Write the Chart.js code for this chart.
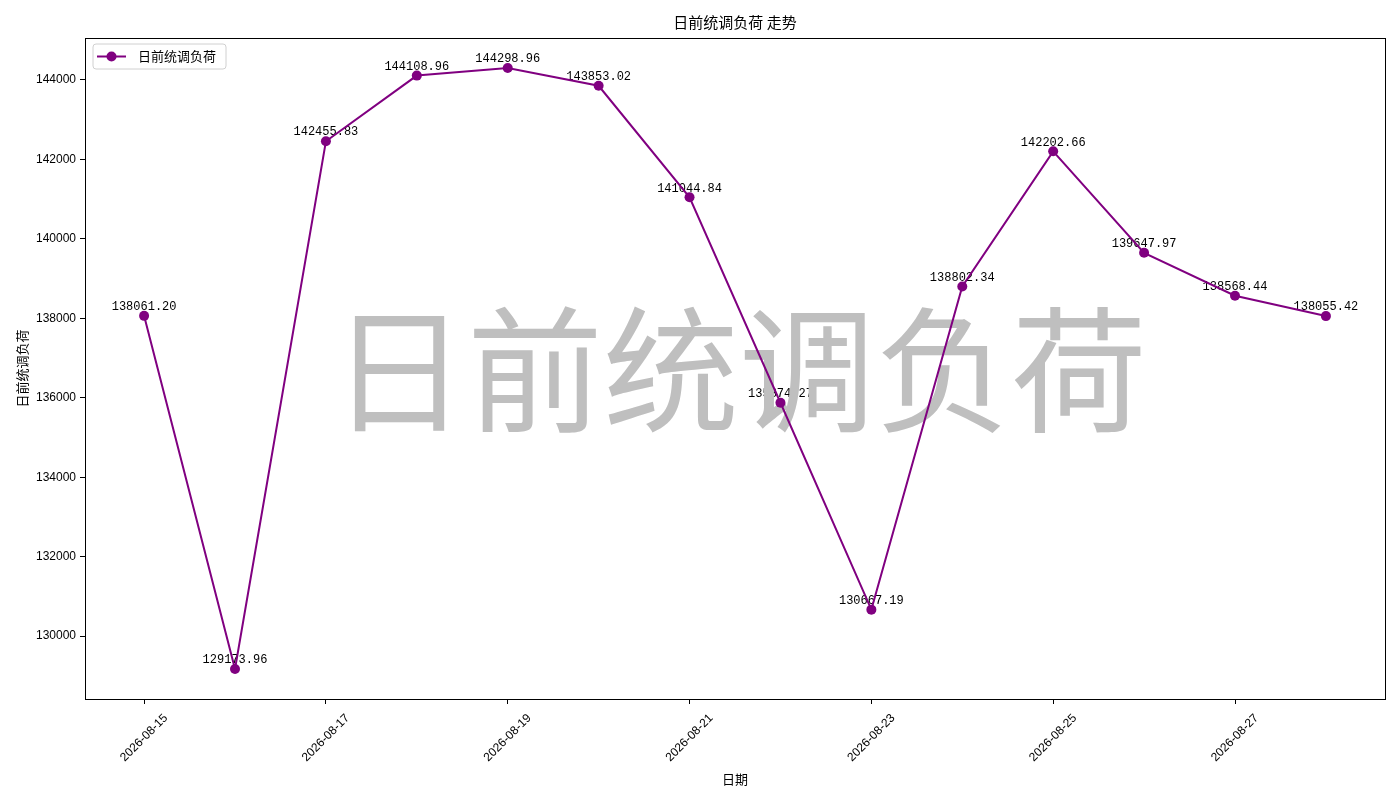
<!DOCTYPE html>
<html>
<head>
<meta charset="utf-8">
<script src="https://cdn.jsdelivr.net/npm/chart.js@4"></script>
<style>
html,body{margin:0;padding:0;background:#fff;}
#wrap{width:1400px;height:800px;position:relative;}
</style>
</head>
<body>
<div id="wrap"><canvas id="c" width="1400" height="800"></canvas></div>
<script>
const dates = ["2026-08-15","2026-08-16","2026-08-17","2026-08-18","2026-08-19","2026-08-20","2026-08-21","2026-08-22","2026-08-23","2026-08-24","2026-08-25","2026-08-26","2026-08-27","2026-08-28"];
const loadValues = [138061.20,129173.96,142455.83,144108.96,144298.96,143853.02,141044.84,135874.27,130667.19,138802.34,142202.66,139647.97,138568.44,138055.42];
const xTickIdx = [0,2,4,6,8,10,12];
const yTicks = [130000,132000,134000,136000,138000,140000,142000,144000];
const seriesName = "日前统调负荷";
const chartTitle = "日前统调负荷 走势";
const xTitle = "日期";
const watermark = "日前统调负荷";

const CJK = '"Noto Sans CJK SC", "Noto Sans", sans-serif';
const TICKF = '"Liberation Sans", Arial, sans-serif';

const vmin = Math.min(...loadValues), vmax = Math.max(...loadValues);
const span = vmax - vmin;
const n = dates.length;

const pts = loadValues.map((v,i)=>({x:i,y:v}));

const extras = {
  id:'extras',
  beforeDatasetsDraw(chart){
    const ctx = chart.ctx, ca = chart.chartArea;
    const xs = chart.scales.x, ys = chart.scales.y;
    ctx.save();
    // data labels
    ctx.font = '12px "Liberation Mono", monospace';
    ctx.fillStyle = '#000';
    ctx.textAlign = 'center';
    ctx.textBaseline = 'bottom';
    loadValues.forEach((v,i)=>{
      ctx.fillText(v.toFixed(2), xs.getPixelForValue(i), ys.getPixelForValue(v) - 3);
    });
    // watermark
    ctx.font = '136px ' + CJK;
    ctx.fillStyle = '#bfbfbf';
    ctx.textAlign = 'center';
    ctx.textBaseline = 'middle';
    ctx.fillText(watermark, (ca.left+ca.right)/2 + 4, (ca.top+ca.bottom)/2 + 2);
    ctx.restore();
  },
  afterDraw(chart){
    const ctx = chart.ctx, ca = chart.chartArea;
    const xs = chart.scales.x;
    ctx.save();
    ctx.strokeStyle = '#000';
    ctx.lineWidth = 1;
    ctx.strokeRect(Math.round(ca.left)+0.5, Math.round(ca.top)+0.5, Math.round(ca.right-ca.left), Math.round(ca.bottom-ca.top));
    // x tick labels (rotated 45deg, centered under tick)
    ctx.font = '12px ' + TICKF;
    ctx.fillStyle = '#000';
    ctx.textAlign = 'center';
    ctx.textBaseline = 'middle';
    xTickIdx.forEach(i=>{
      const t = dates[i];
      const w = ctx.measureText(t).width, h = 12;
      const bh = (w + h) / Math.SQRT2;
      const px = xs.getPixelForValue(i);
      const cy = ca.bottom + 13 + bh/2;
      ctx.save();
      ctx.translate(px, cy);
      ctx.rotate(-Math.PI/4);
      ctx.fillText(t, 0, 0);
      ctx.restore();
    });
    // title
    ctx.font = '15px ' + CJK;
    ctx.textAlign = 'center';
    ctx.textBaseline = 'middle';
    ctx.fillText(chartTitle, (ca.left+ca.right)/2, 22);
    // x title
    ctx.font = '13px ' + CJK;
    ctx.fillText(xTitle, (ca.left+ca.right)/2, 779);
    // y title
    ctx.save();
    ctx.translate(22, (ca.top+ca.bottom)/2);
    ctx.rotate(-Math.PI/2);
    ctx.fillText(seriesName, 0, 0);
    ctx.restore();
    // legend
    const lx = ca.left + 8, ly = ca.top + 6;
    const lw = 133, lh = 25;
    ctx.beginPath();
    const r = 3;
    ctx.moveTo(lx+r, ly); ctx.lineTo(lx+lw-r, ly); ctx.quadraticCurveTo(lx+lw, ly, lx+lw, ly+r);
    ctx.lineTo(lx+lw, ly+lh-r); ctx.quadraticCurveTo(lx+lw, ly+lh, lx+lw-r, ly+lh);
    ctx.lineTo(lx+r, ly+lh); ctx.quadraticCurveTo(lx, ly+lh, lx, ly+lh-r);
    ctx.lineTo(lx, ly+r); ctx.quadraticCurveTo(lx, ly, lx+r, ly);
    ctx.closePath();
    ctx.fillStyle = 'rgba(255,255,255,0.8)';
    ctx.fill();
    ctx.strokeStyle = '#d0d0d0';
    ctx.stroke();
    const cy = ly + lh/2;
    ctx.strokeStyle = '#800080';
    ctx.lineWidth = 2;
    ctx.beginPath(); ctx.moveTo(lx+4, cy); ctx.lineTo(lx+33, cy); ctx.stroke();
    ctx.fillStyle = '#800080';
    ctx.beginPath(); ctx.arc(lx+18.5, cy, 5, 0, Math.PI*2); ctx.fill();
    ctx.fillStyle = '#000';
    ctx.font = '13px ' + CJK;
    ctx.textAlign = 'left';
    ctx.textBaseline = 'middle';
    ctx.fillText(seriesName, lx+45, cy);
    ctx.restore();
  }
};

new Chart(document.getElementById('c'), {
  type:'line',
  data:{datasets:[{
    label: seriesName,
    data: pts,
    borderColor:'#800080',
    backgroundColor:'#800080',
    borderWidth:2,
    pointRadius:5,
    pointHoverRadius:5,
    pointBackgroundColor:'#800080',
    pointBorderColor:'#800080',
    pointBorderWidth:0,
    tension:0,
    fill:false
  }]},
  options:{
    responsive:false,
    animation:false,
    devicePixelRatio:1,
    layout:{padding:{top:38,right:15,left:0,bottom:0}},
    plugins:{legend:{display:false},title:{display:false},tooltip:{enabled:false}},
    scales:{
      x:{
        type:'linear',
        min: -0.05*(n-1),
        max: (n-1)*1.05,
        afterFit(s){ s.height = 101; },
        afterBuildTicks(s){ s.ticks = xTickIdx.map(v=>({value:v})); },
        ticks:{
          display:false,
          autoSkip:false,
          callback:(v)=>dates[v] ?? ''
        },
        grid:{drawOnChartArea:false, drawTicks:true, tickLength:5, color:'#000'},
        border:{display:false}
      },
      y:{
        type:'linear',
        min: vmin - 0.05*span,
        max: vmax + 0.05*span,
        afterFit(s){ s.width = 85; },
        afterBuildTicks(s){ s.ticks = yTicks.map(v=>({value:v})); },
        ticks:{
          color:'#000',
          font:{family:TICKF, size:12},
          padding:4,
          callback:(v)=>String(v)
        },
        grid:{drawOnChartArea:false, drawTicks:true, tickLength:5, color:'#000'},
        border:{display:false}
      }
    }
  },
  plugins:[extras]
});
</script>
</body>
</html>
